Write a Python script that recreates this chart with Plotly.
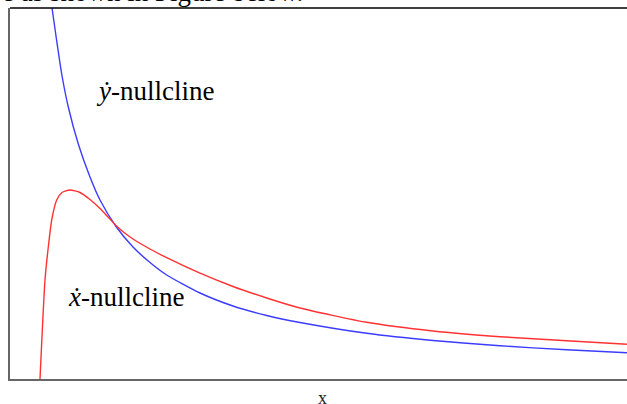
import plotly.graph_objects as go

# y-nullcline (blue), values (arbitrary units)
y_null_x = [0.42, 0.46, 0.517, 0.583, 0.683, 0.80, 0.90, 1.06, 1.23, 1.40, 1.567, 1.90, 2.23, 2.567, 2.90, 3.567, 4.23, 4.90, 5.567, 6.17]
y_null_y = [3.71, 3.43, 3.05, 2.72, 2.35, 2.02, 1.79, 1.525, 1.32, 1.165, 1.04, 0.86, 0.73, 0.635, 0.565, 0.457, 0.385, 0.332, 0.292, 0.263]

# x-nullcline (red)
x_null_x = [0.30, 0.323, 0.35, 0.383, 0.417, 0.467, 0.52, 0.60, 0.70, 0.80, 0.90, 0.98, 1.06, 1.14, 1.23, 1.40, 1.567, 1.90, 2.23, 2.567, 2.90, 3.567, 4.23, 4.90, 5.567, 6.17]
x_null_y = [0.0, 0.49, 0.99, 1.32, 1.59, 1.79, 1.865, 1.89, 1.865, 1.795, 1.705, 1.62, 1.535, 1.465, 1.40, 1.30, 1.213, 1.058, 0.925, 0.81, 0.71, 0.567, 0.48, 0.423, 0.383, 0.347]

x_range = [0, 6.17]
y_range = [0, 3.71]

SERIF = "Liberation Serif"

fig = go.Figure()
fig.add_trace(go.Scatter(x=y_null_x, y=y_null_y, mode="lines",
                         line=dict(color="rgb(60,60,255)", width=1.4, shape="spline", smoothing=0.6),
                         showlegend=False, hoverinfo="skip"))
fig.add_trace(go.Scatter(x=x_null_x, y=x_null_y, mode="lines",
                         line=dict(color="rgb(255,50,50)", width=1.4, shape="spline", smoothing=0.6),
                         showlegend=False, hoverinfo="skip"))

fig.update_layout(
    width=627, height=404,
    margin=dict(l=10, r=0, t=8, b=25),
    paper_bgcolor="white", plot_bgcolor="white",
    xaxis=dict(range=x_range, showgrid=False, zeroline=False, showticklabels=False, ticks="",
               showline=True, linecolor="#666666", linewidth=1.5),
    yaxis=dict(range=y_range, showgrid=False, zeroline=False, showticklabels=False, ticks="",
               showline=True, linecolor="#666666", linewidth=1.5),
    font=dict(family=SERIF, color="black"),
)

fig.add_shape(type="line", xref="paper", yref="paper", x0=0, x1=1, y0=1, y1=1,
              line=dict(color="black", width=1.5))

fig.add_annotation(x=0.84, y=2.88, xref="x", yref="y", text="<i>ẏ</i>-nullcline",
                   showarrow=False, xanchor="left", yanchor="middle",
                   font=dict(family=SERIF, size=27, color="black"))
fig.add_annotation(x=0.555, y=0.82, xref="x", yref="y", text="<i>ẋ</i>-nullcline",
                   showarrow=False, xanchor="left", yanchor="middle",
                   font=dict(family=SERIF, size=27, color="black"))
fig.add_annotation(x=0.507, y=0, xref="paper", yref="paper", text="x",
                   showarrow=False, xanchor="center", yanchor="top", yshift=-7,
                   font=dict(family=SERIF, size=18, color="#222222"))
fig.add_annotation(x=-0.0162, y=1, xref="paper", yref="paper", text="e as shown in Figure below.",
                   showarrow=False, xanchor="left", yanchor="bottom", yshift=-1,
                   font=dict(family=SERIF, size=27, color="black"))

fig.write_html("out.html", config={"displayModeBar": False},
               post_script="document.body.style.margin='0';document.body.style.overflow='hidden';")
